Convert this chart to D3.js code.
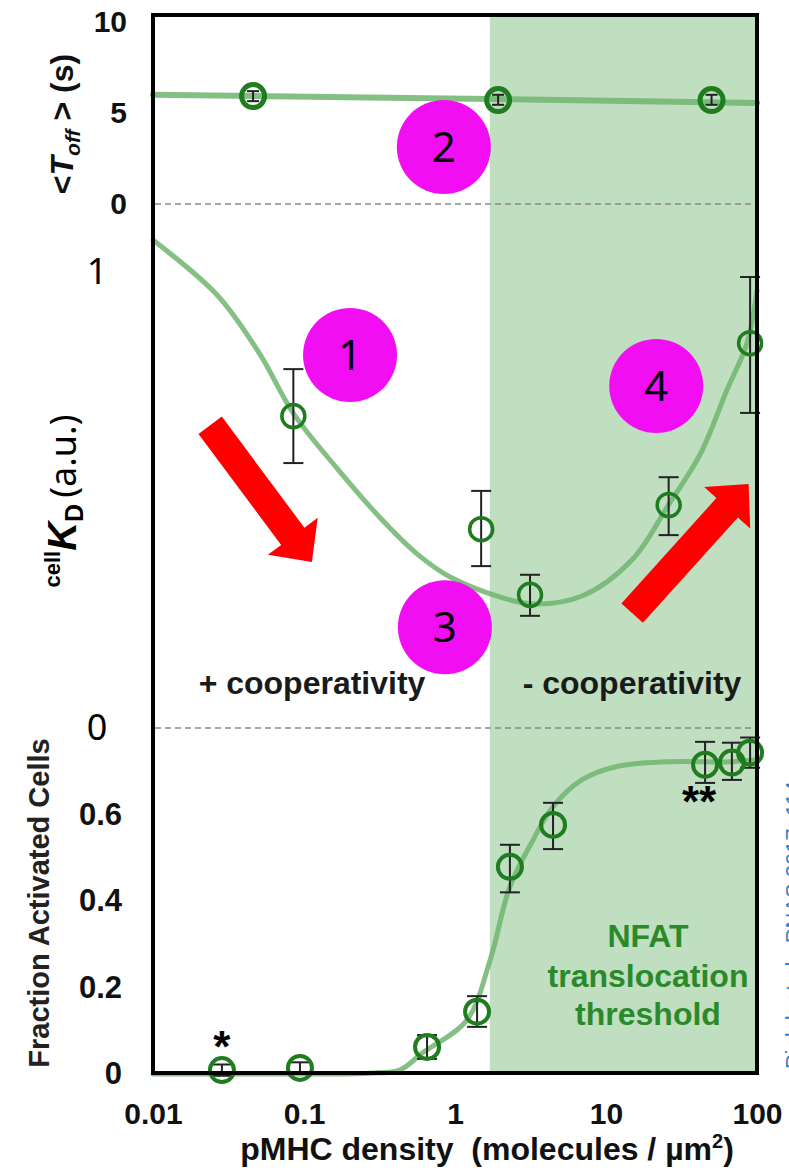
<!DOCTYPE html>
<html>
<head>
<meta charset="utf-8">
<script src="https://cdn.jsdelivr.net/npm/d3@7"></script>
<style>
  body { margin: 0; background: #fff; }
  svg { display: block; font-family: "Liberation Sans", Arial, sans-serif; }
</style>
</head>
<body>
<div class="chart"></div>
<script>
// ---- data ----
// x axis (pMHC density, log)
var xTicks = [0.01, 0.1, 1, 10, 100];
var xTickLabels = ["0.01", "0.1", "1", "10", "100"];
var shadeStart = 1.7;

// top panel: <T_off> (s)
var toffDensity = [0.046, 1.93, 50];
var toffValue = [5.93, 5.71, 5.71];
var toffHigh = [6.2, 6.0, 6.0];
var toffLow = [5.65, 5.45, 5.45];
var toffFitDensity = [0.01, 1.7, 100];
var toffFitValue = [6.0, 5.77, 5.55];
var toffTicks = [0, 5, 10];

// middle panel: cellKD (a.u.)
var kdDensity = [0.085, 1.49, 3.14, 26, 90];
var kdValue = [0.684, 0.436, 0.292, 0.489, 0.844];
var kdHigh = [0.787, 0.52, 0.336, 0.55, 0.989];
var kdLow = [0.581, 0.355, 0.246, 0.423, 0.691];
var kdFitDensity = [0.01, 0.0265, 0.051, 0.085, 0.165, 0.33, 0.56, 0.93, 2.0, 3.3, 7, 15, 26, 42, 63, 86, 100];
var kdFitValue = [1.07, 0.95, 0.82, 0.69, 0.57, 0.456, 0.382, 0.331, 0.287, 0.272, 0.29, 0.37, 0.49, 0.60, 0.74, 0.845, 0.96];
var kdTicks = [0, 1];

// bottom panel: fraction activated cells
var fracDensity = [0.0286, 0.094, 0.653, 1.40, 2.31, 4.46, 45.3, 68.2, 90];
var fracValue = [0.009, 0.014, 0.0625, 0.144, 0.479, 0.576, 0.715, 0.72, 0.743];
var fracHigh = [0.022, 0.027, 0.09, 0.18, 0.53, 0.627, 0.768, 0.766, 0.778];
var fracLow = [-0.004, 0.001, 0.035, 0.109, 0.42, 0.52, 0.673, 0.68, 0.708];
var fracFitDensity = [0.01, 0.094, 0.27, 0.43, 0.61, 1.2, 1.71, 2.31, 3.3, 4.45, 7, 11.8, 25, 69, 100];
var fracFitValue = [0, 0, 0.002, 0.009, 0.049, 0.125, 0.264, 0.433, 0.542, 0.618, 0.681, 0.711, 0.722, 0.722, 0.727];
var fracTicks = [0, 0.2, 0.4, 0.6];

// annotations
var badgeLabels = ["1", "2", "3", "4"];
var badgeDensity = [0.2018, 0.8435, 0.857, 21.5];
var badgePanel = ["kd", "toff", "kd", "kd"];
var badgeValue = [0.818, 3.13, 0.221, 0.75];

var arrowTail = [[0.0239, 0.664], [14.9, 0.252]];
var arrowTip = [[0.1128, 0.364], [88.0, 0.535]];

// ---- setup ----
var widthSVG = 789;
var heightSVG = 1170;
var plot = { left: 153, right: 757, top: 15, bottom: 1073 };

var svg = d3.select(".chart")
  .append("svg")
  .attr("width", widthSVG)
  .attr("height", heightSVG);

var x = d3.scaleLog().domain([0.01, 100]).range([plot.left, plot.right]);
var yToff = d3.scaleLinear().domain([0, 10]).range([204, 22]);
var yKd = d3.scaleLinear().domain([0, 1]).range([728, 272]);
var yFrac = d3.scaleLinear().domain([0, 0.8]).range([1074, 728]);
var panelScale = { toff: yToff, kd: yKd };

var green = "#1f7d1f";
var fitColor = "#6fb56f";

// shaded region (NFAT threshold)
svg.append("rect")
  .attr("x", x(shadeStart))
  .attr("y", plot.top)
  .attr("width", plot.right - x(shadeStart))
  .attr("height", plot.bottom - plot.top)
  .attr("fill", "#c0dec0");

// dashed separators
[yToff(0), yKd(0)].forEach(function (yy) {
  svg.append("line")
    .attr("x1", plot.left + 2).attr("x2", plot.right - 2)
    .attr("y1", yy).attr("y2", yy)
    .attr("stroke", "#8a8a8a")
    .attr("stroke-width", 1.5)
    .attr("stroke-dasharray", "6,4");
});

// fit curves
function drawFit(xs, ys, yScale, w) {
  var line = d3.line()
    .x(function (d) { return x(d[0]); })
    .y(function (d) { return yScale(d[1]); })
    .curve(d3.curveCatmullRom.alpha(0.5));
  svg.append("path")
    .datum(xs.map(function (v, i) { return [v, ys[i]]; }))
    .attr("d", line)
    .attr("fill", "none")
    .attr("stroke", fitColor)
    .attr("stroke-opacity", 0.85)
    .attr("stroke-width", w)
    .attr("stroke-linecap", "round");
}
drawFit(toffFitDensity, toffFitValue, yToff, 6);
drawFit(kdFitDensity, kdFitValue, yKd, 5);
drawFit(fracFitDensity, fracFitValue, yFrac, 5);

// data points with error bars
function drawPoints(xs, ys, hi, lo, yScale, r, sw, cap) {
  var g = svg.append("g");
  var pts = xs.map(function (v, i) { return { x: v, y: ys[i], hi: hi[i], lo: lo[i] }; });
  var eb = g.selectAll(".eb").data(pts).enter().append("g");
  eb.append("line")
    .attr("x1", d => x(d.x)).attr("x2", d => x(d.x))
    .attr("y1", d => yScale(d.hi)).attr("y2", d => yScale(d.lo));
  eb.append("line")
    .attr("x1", d => x(d.x) - cap).attr("x2", d => x(d.x) + cap)
    .attr("y1", d => yScale(d.hi)).attr("y2", d => yScale(d.hi));
  eb.append("line")
    .attr("x1", d => x(d.x) - cap).attr("x2", d => x(d.x) + cap)
    .attr("y1", d => yScale(d.lo)).attr("y2", d => yScale(d.lo));
  eb.selectAll("line").attr("stroke", "#222").attr("stroke-width", 2);
  g.selectAll("circle").data(pts).enter().append("circle")
    .attr("cx", d => x(d.x))
    .attr("cy", d => yScale(d.y))
    .attr("r", r)
    .attr("fill", "none")
    .attr("stroke", green)
    .attr("stroke-width", sw);
}
drawPoints(toffDensity, toffValue, toffHigh, toffLow, yToff, 11.5, 5, 6);
drawPoints(kdDensity, kdValue, kdHigh, kdLow, yKd, 11.5, 3.5, 10);
drawPoints(fracDensity, fracValue, fracHigh, fracLow, yFrac, 12, 4, 10);

// red arrows
function arrowPath(t, p, w, hw, hl) {
  var dx = p[0] - t[0], dy = p[1] - t[1];
  var len = Math.sqrt(dx * dx + dy * dy);
  var ux = dx / len, uy = dy / len, nx = -uy, ny = ux;
  var bx = p[0] - ux * hl, by = p[1] - uy * hl;
  var pts = [
    [t[0] + nx * w / 2, t[1] + ny * w / 2],
    [bx + nx * w / 2, by + ny * w / 2],
    [bx + nx * hw / 2, by + ny * hw / 2],
    [p[0], p[1]],
    [bx - nx * hw / 2, by - ny * hw / 2],
    [bx - nx * w / 2, by - ny * w / 2],
    [t[0] - nx * w / 2, t[1] - ny * w / 2]
  ];
  return "M" + pts.map(q => q[0].toFixed(1) + "," + q[1].toFixed(1)).join("L") + "Z";
}
arrowTail.forEach(function (t, i) {
  var tail = [x(t[0]), yKd(t[1])];
  var tip = [x(arrowTip[i][0]), yKd(arrowTip[i][1])];
  svg.append("path")
    .attr("d", arrowPath(tail, tip, 29, 62, 32))
    .attr("fill", "#ff0000");
});

// magenta numbered badges
badgeLabels.forEach(function (lab, i) {
  var cx = x(badgeDensity[i]);
  var cy = panelScale[badgePanel[i]](badgeValue[i]);
  svg.append("circle")
    .attr("cx", cx).attr("cy", cy).attr("r", 47)
    .attr("fill", "#f20ef2");
  svg.append("text")
    .attr("x", cx).attr("y", cy + 15)
    .attr("text-anchor", "middle")
    .attr("font-family", "'Noto Sans', sans-serif")
    .attr("font-size", 42)
    .attr("fill", "#000")
    .text(lab);
});

// panel texts
svg.append("text")
  .attr("x", 312).attr("y", 694)
  .attr("text-anchor", "middle")
  .attr("font-weight", "bold").attr("font-size", 32)
  .attr("fill", "#1a1a1a")
  .text("+ cooperativity");
svg.append("text")
  .attr("x", 632).attr("y", 694)
  .attr("text-anchor", "middle")
  .attr("font-weight", "bold").attr("font-size", 32)
  .attr("fill", "#1a1a1a")
  .text("- cooperativity");

var nfat = svg.append("text")
  .attr("text-anchor", "middle")
  .attr("font-weight", "bold").attr("font-size", 32)
  .attr("fill", "#2a8a2a");
[["NFAT", 947], ["translocation", 987], ["threshold", 1025]].forEach(function (s) {
  nfat.append("tspan").attr("x", 648).attr("y", s[1]).text(s[0]);
});

// asterisks
svg.append("text")
  .attr("x", x(fracDensity[0])).attr("y", yFrac(fracValue[0]) - 8)
  .attr("text-anchor", "middle")
  .attr("font-weight", "bold").attr("font-size", 44)
  .text("*");
svg.append("text")
  .attr("x", x(fracDensity[6]) - 6).attr("y", yFrac(fracValue[6]) + 52)
  .attr("text-anchor", "middle")
  .attr("font-weight", "bold").attr("font-size", 44)
  .text("**");

// axes
var bottomAxis = d3.axisBottom(x)
  .tickValues(xTicks)
  .tickFormat(function (d, i) { return xTickLabels[i]; })
  .tickSize(0).tickPadding(30);
svg.append("g")
  .attr("transform", `translate(0, ${plot.bottom})`)
  .call(bottomAxis)
  .call(g => g.select(".domain").remove())
  .selectAll("text")
  .attr("font-family", "'Liberation Sans', Arial, sans-serif")
  .attr("font-weight", "bold").attr("font-size", 30).attr("fill", "#111");

var toffAxis = d3.axisLeft(yToff).tickValues(toffTicks).tickSize(0).tickPadding(26);
svg.append("g")
  .attr("transform", `translate(${plot.left}, 0)`)
  .call(toffAxis)
  .call(g => g.select(".domain").remove())
  .selectAll("text")
  .attr("font-family", "'Liberation Sans', Arial, sans-serif")
  .attr("font-weight", "bold").attr("font-size", 30).attr("fill", "#111");

var fracAxis = d3.axisLeft(yFrac).tickValues(fracTicks)
  .tickFormat(d => d === 0 ? "0" : d3.format(".1f")(d))
  .tickSize(0).tickPadding(31);
svg.append("g")
  .attr("transform", `translate(${plot.left}, 0)`)
  .call(fracAxis)
  .call(g => g.select(".domain").remove())
  .selectAll("text")
  .attr("font-family", "'Liberation Sans', Arial, sans-serif")
  .attr("font-weight", "bold").attr("font-size", 31).attr("fill", "#111");

var kdAxis = d3.axisLeft(yKd).tickValues(kdTicks).tickFormat(d3.format("d")).tickSize(0).tickPadding(0);
svg.append("g")
  .attr("transform", `translate(${plot.left}, 0)`)
  .call(kdAxis)
  .call(g => g.select(".domain").remove())
  .selectAll("text")
  .attr("x", -56)
  .attr("text-anchor", "middle")
  .attr("font-family", "'Noto Sans', sans-serif")
  .attr("font-size", 36).attr("fill", "#000");

// frame
svg.append("rect")
  .attr("x", plot.left).attr("y", plot.top)
  .attr("width", plot.right - plot.left)
  .attr("height", plot.bottom - plot.top)
  .attr("fill", "none")
  .attr("stroke", "#000")
  .attr("stroke-width", 4);

// axis titles
var t1 = svg.append("text")
  .attr("transform", "translate(73, 124) rotate(-90)")
  .attr("text-anchor", "middle")
  .attr("font-weight", "bold").attr("font-size", 32).attr("fill", "#111");
t1.append("tspan").text("<");
t1.append("tspan").attr("font-style", "italic").text("T");
t1.append("tspan").attr("font-style", "italic").attr("font-size", 21).attr("dy", 7).text("off");
t1.append("tspan").attr("dy", -7).text(" > (s)");

var t2 = svg.append("text")
  .attr("transform", "translate(76, 501) rotate(-90)")
  .attr("text-anchor", "middle")
  .attr("fill", "#000");
t2.append("tspan").attr("font-weight", "bold").attr("font-size", 22).attr("dy", -16).text("cell");
t2.append("tspan").attr("font-weight", "bold").attr("font-style", "italic").attr("font-size", 40).attr("dy", 16).text("K");
t2.append("tspan").attr("font-weight", "bold").attr("font-size", 25).attr("dy", 7).text("D");
t2.append("tspan").attr("font-family", "'Noto Sans', sans-serif").attr("font-size", 36).attr("dy", -7).attr("dx", 6).text("(a.u.)");

svg.append("text")
  .attr("transform", "translate(49, 903) rotate(-90)")
  .attr("text-anchor", "middle")
  .attr("font-weight", "bold").attr("font-size", 29).attr("fill", "#222")
  .text("Fraction Activated Cells");

var xl = svg.append("text")
  .attr("x", 487).attr("y", 1160)
  .attr("text-anchor", "middle")
  .attr("font-weight", "bold").attr("font-size", 32).attr("fill", "#111")
  .style("white-space", "pre");
xl.append("tspan").text("pMHC density  (molecules / \u00b5m");
xl.append("tspan").attr("font-size", 20).attr("dy", -12).text("2");
xl.append("tspan").attr("dy", 12).text(")");

// clipped citation on the right edge
svg.append("text")
  .attr("transform", "translate(801, 925) rotate(-90)")
  .attr("text-anchor", "middle")
  .attr("font-size", 22).attr("fill", "#2f80d0")
  .text("Pielak et al., PNAS 2017; 114");
</script>
</body>
</html>
